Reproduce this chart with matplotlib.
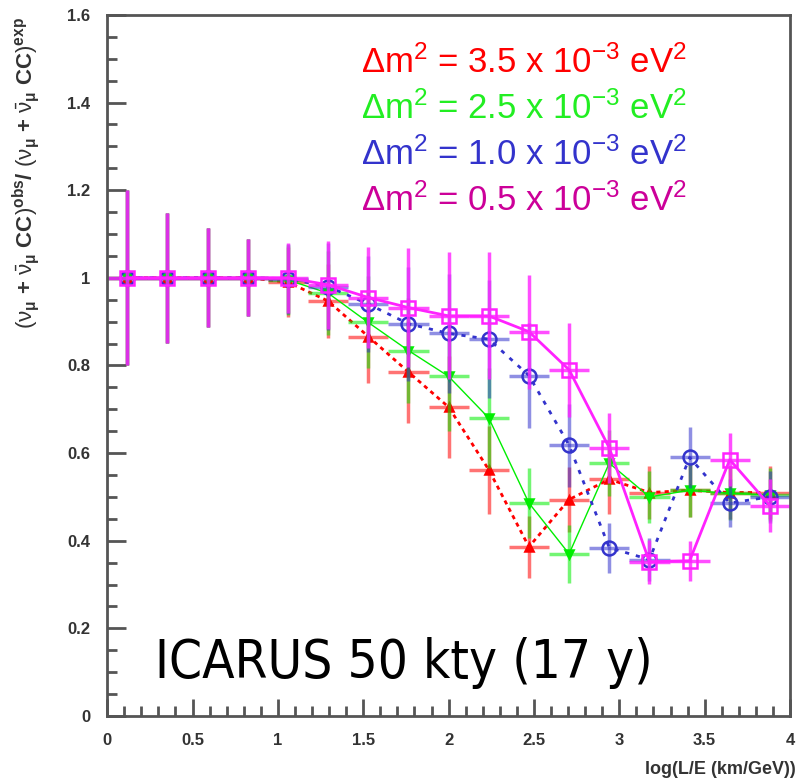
import matplotlib
matplotlib.use("Agg")
import matplotlib.pyplot as plt
from matplotlib import font_manager
from matplotlib.ticker import MultipleLocator
import numpy as np

# 17 bins in log(L/E) from 0 to 4
bin_edges = np.linspace(0, 4, 18)
centers = 0.5 * (bin_edges[:-1] + bin_edges[1:])
half_width = 0.5 * (bin_edges[1] - bin_edges[0])

# ratio obs/exp for each delta m^2
red_vals = [1, 1, 1, 1, 0.99, 0.947, 0.866, 0.785, 0.705, 0.562, 0.386, 0.494, 0.54, 0.51, 0.515, 0.51, 0.51]
red_err = [0.2, 0.148, 0.113, 0.088, 0.08, 0.085, 0.105, 0.117, 0.116, 0.1, 0.07, 0.075, 0.08, 0.06, 0.06, 0.06, 0.06]

green_vals = [1, 1, 1, 1, 0.995, 0.965, 0.898, 0.834, 0.775, 0.68, 0.486, 0.37, 0.577, 0.50, 0.515, 0.508, 0.505]
green_err = [0.2, 0.148, 0.113, 0.088, 0.08, 0.095, 0.105, 0.12, 0.125, 0.115, 0.08, 0.066, 0.075, 0.06, 0.06, 0.06, 0.06]

blue_vals = [1, 1, 1, 1, 0.998, 0.98, 0.94, 0.895, 0.873, 0.86, 0.777, 0.618, 0.384, 0.357, 0.59, 0.486, 0.50]
blue_err = [0.2, 0.148, 0.113, 0.088, 0.08, 0.1, 0.11, 0.13, 0.135, 0.135, 0.12, 0.095, 0.057, 0.05, 0.07, 0.055, 0.06]

mag_vals = [1, 1, 1, 1, 1, 0.984, 0.955, 0.932, 0.913, 0.913, 0.877, 0.79, 0.612, 0.352, 0.354, 0.585, 0.48]
mag_err = [0.2, 0.148, 0.113, 0.088, 0.08, 0.1, 0.115, 0.135, 0.145, 0.145, 0.13, 0.107, 0.08, 0.05, 0.045, 0.06, 0.06]

labels = [r"$\Delta$m$^2$ = 3.5 x 10$^{-3}$ eV$^2$",
          r"$\Delta$m$^2$ = 2.5 x 10$^{-3}$ eV$^2$",
          r"$\Delta$m$^2$ = 1.0 x 10$^{-3}$ eV$^2$",
          r"$\Delta$m$^2$ = 0.5 x 10$^{-3}$ eV$^2$"]
label_colors = ["#ff0000", "#22ee22", "#3333cc", "#cc0099"]

plt.rcParams['mathtext.fontset'] = 'custom'
plt.rcParams['mathtext.rm'] = 'Liberation Sans'
plt.rcParams['mathtext.it'] = 'Liberation Sans'
plt.rcParams['mathtext.bf'] = 'Liberation Sans:bold'
plt.rcParams['mathtext.default'] = 'regular'
plt.rcParams['font.family'] = ['Liberation Sans', 'DejaVu Sans']

# a narrow font for the big caption, if there is one
narrow = None
for f in font_manager.fontManager.ttflist:
    fn = f.fname.lower()
    if ("narrow" in fn or "condensed" in fn) and "bold" not in fn and "oblique" not in fn and "italic" not in fn:
        narrow = f
        break

fig = plt.figure(figsize=(8, 7.82), dpi=100)
ax = fig.add_axes([0.134, 0.0844, 0.8535, 0.8966])

series = [
    (red_vals, red_err, "#ff0000", "^", "full", (0, (1.5, 1.5)), 2.0, 6, 0.55),
    (green_vals, green_err, "#00ee00", "v", "full", "-", 1.0, 6, 0.55),
    (blue_vals, blue_err, "#3333cc", "o", "none", (0, (1.5, 2.5)), 2.0, 10, 0.55),
    (mag_vals, mag_err, "#ff22ff", "s", "none", "-", 2.0, 10, 0.8),
]

for vals, err, col, mk, fill, ls, lw, ms, a in series:
    # error crosses (bin width horizontally)
    ax.errorbar(centers, vals, yerr=err, xerr=half_width, fmt="none",
                ecolor=col, elinewidth=2.5, alpha=a, capsize=0)
    ax.plot(centers, vals, color=col, linestyle=ls, linewidth=lw)
    ax.plot(centers, vals, linestyle="none", marker=mk, markersize=ms,
            color=col, markerfacecolor=col if fill == "full" else "none",
            markeredgewidth=1.8)

ax.set_xlim(0, 4)
ax.set_ylim(0, 1.6)
ax.xaxis.set_minor_locator(MultipleLocator(0.1))
ax.yaxis.set_minor_locator(MultipleLocator(0.05))
ax.set_xticks(np.arange(0, 4.01, 0.5))
ax.set_xticklabels(["0", "0.5", "1", "1.5", "2", "2.5", "3", "3.5", "4"])
ax.set_yticks(np.arange(0, 1.61, 0.2))
ax.set_yticklabels(["0", "0.2", "0.4", "0.6", "0.8", "1", "1.2", "1.4", "1.6"])
ax.tick_params(axis="y", which="major", length=14)
ax.tick_params(axis="x", which="major", length=12)
ax.tick_params(which="major", direction="in", width=2, color="#555555",
               labelsize=12, labelcolor="#333333", pad=12, top=False, right=False)
ax.tick_params(which="minor", direction="in", length=7, width=2, color="#555555",
               top=False, right=False)
for lab in ax.get_xticklabels() + ax.get_yticklabels():
    lab.set_fontweight("bold")
for sp in ax.spines.values():
    sp.set_color("#555555")
    sp.set_linewidth(2)

ax.set_xlabel("log(L/E (km/GeV))", fontsize=13, fontweight="bold", color="#333333")
ax.xaxis.set_label_coords(1.008, -0.076)
ax.xaxis.label.set_horizontalalignment("right")
ax.xaxis.label.set_verticalalignment("center")
ax.set_ylabel(r"$(\nu_\mathbf{\mu}\ \mathbf{+}\ \bar{\nu}_\mathbf{\mu}\ \mathbf{CC})^\mathbf{obs}\mathbf{/}\ (\nu_\mathbf{\mu}\ \mathbf{+}\ \bar{\nu}_\mathbf{\mu}\ \mathbf{CC})^\mathbf{exp}$",
              fontsize=16, color="#333333")
ax.yaxis.set_label_coords(-0.095, 0.775)

for i, (txt, col) in enumerate(zip(labels, label_colors)):
    ax.text(0.372, 0.917 - i * 0.0657, txt, transform=ax.transAxes, color=col,
            fontsize=25, family="Liberation Sans")

# big caption, sized so it spans about 500 px like the original
if narrow is not None:
    cap_font = font_manager.FontProperties(fname=narrow.fname, size=50)
else:
    cap_font = font_manager.FontProperties(family="Liberation Sans", size=50)
cap = ax.text(0.07, 0.054, "ICARUS 50 kty (17 y)", transform=ax.transAxes,
              color="black", fontproperties=cap_font)
fig.canvas.draw()
w = cap.get_window_extent().width
cap.set_fontsize(50 * 498.0 / w)

fig.savefig("out.png", dpi=100)
